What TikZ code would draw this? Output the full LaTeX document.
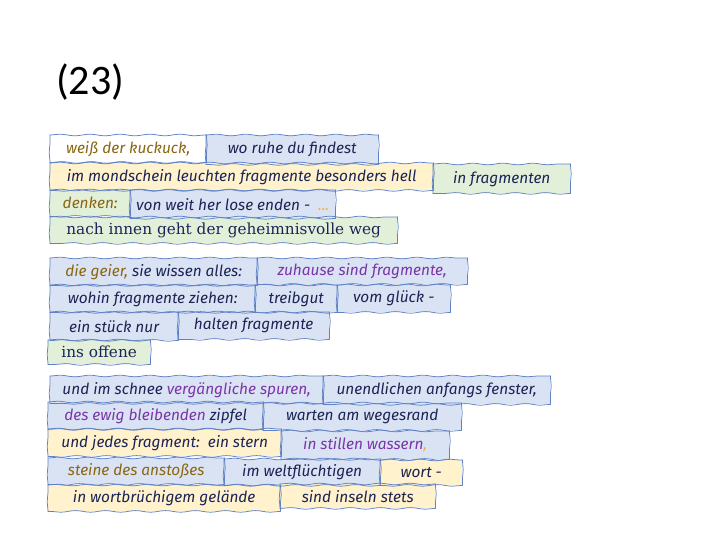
\documentclass[tikz,border=0pt]{standalone}
\usepackage{fontspec}
\setmainfont{DejaVu Serif}
\newfontfamily\titlefont{Carlito}
\newfontfamily\handfont{Fira Sans}
\usetikzlibrary{decorations.pathmorphing}
\definecolor{bord}{HTML}{5F82C6}
\definecolor{fblue}{HTML}{DAE3F3}
\definecolor{fyel}{HTML}{FFF2CC}
\definecolor{fgrn}{HTML}{E2F0D9}
\definecolor{ink}{HTML}{1C2456}
\definecolor{brn}{HTML}{8A6612}
\definecolor{pur}{HTML}{7A35A8}
\definecolor{orc}{HTML}{F2B134}
\newcommand{\br}[1]{\textcolor{brn}{#1}}
\newcommand{\pu}[1]{\textcolor{pur}{#1}}
\newcommand{\oc}[1]{\textcolor{orc}{#1}}
\tikzset{
  bx/.style={inner sep=0pt, anchor=north west, text=ink,
    font=\handfont\itshape\fontsize{15.4}{17}\selectfont},
  sbx/.style={bx, font=\fontsize{15.3}{17}\selectfont},
  wb/.style={fill=white}, bb/.style={fill=fblue},
  yb/.style={fill=fyel}, gb/.style={fill=fgrn},
  wave/.style={draw=bord, line width=0.75pt, line cap=round, decorate,
    decoration={snake, amplitude=0.8pt, segment length=30pt, pre length=0.5pt, post length=0.5pt}}
}
\begin{document}
\begin{tikzpicture}[x=1pt,y=-1pt]
\useasboundingbox (0,0) rectangle (720,540);
\node[anchor=west, font=\titlefont\fontsize{42}{46}\selectfont, inner sep=0pt] (title) at (56,82) {(23)};
% group 1
\node[bx,wb,minimum width=156pt,minimum height=27pt] (a1) at (50,135) {\br{weiß der kuckuck,}};
\node[bx,bb,minimum width=172pt,minimum height=29pt] (a2) at (206,135) {wo ruhe du findest};
\node[bx,yb,minimum width=383pt,minimum height=27pt] (a3) at (50,163) {im mondschein leuchten fragmente besonders hell};
\node[bx,gb,minimum width=137pt,minimum height=29pt] (a4) at (433,164) {in fragmenten};
\node[bx,gb,minimum width=80pt,minimum height=26pt] (a5) at (50,190) {\br{denken:}};
\node[bx,bb,minimum width=205pt,minimum height=28pt] (a6) at (130,190) {von weit her lose enden -\ \ \oc{...}};
\node[sbx,gb,minimum width=347pt,minimum height=26pt] (a7) at (50,217) {nach innen geht der geheimnisvolle weg};
% group 2
\node[bx,bb,minimum width=207pt,minimum height=27pt] (b1) at (50,258) {\br{die geier,} sie wissen alles:};
\node[bx,bb,minimum width=210pt,minimum height=26pt] (b2) at (257,258) {\pu{zuhause sind fragmente,}};
\node[bx,bb,minimum width=205pt,minimum height=27pt] (b3) at (50,285) {wohin fragmente ziehen:};
\node[bx,bb,minimum width=82pt,minimum height=27pt] (b4) at (255,285) {treibgut};
\node[bx,bb,minimum width=113pt,minimum height=27pt] (b5) at (337,285) {vom glück -};
\node[bx,bb,minimum width=128pt,minimum height=28pt] (b6) at (50,312) {ein stück nur};
\node[bx,bb,minimum width=151pt,minimum height=27pt] (b7) at (178,312) {halten fragmente};
\node[sbx,gb,minimum width=102pt,minimum height=24pt] (b8) at (48,340) {ins offene};
% group 3
\node[bx,bb,minimum width=273pt,minimum height=27pt] (c1) at (50,376) {und im schnee \pu{vergängliche spuren,}};
\node[bx,bb,minimum width=227pt,minimum height=28pt] (c2) at (323,376) {unendlichen anfangs fenster,};
\node[bx,bb,minimum width=215pt,minimum height=27pt] (c3) at (48,402) {\pu{des ewig bleibenden} zipfel};
\node[bx,bb,minimum width=198pt,minimum height=27pt] (c4) at (263,403) {warten am wegesrand};
\node[bx,yb,minimum width=233pt,minimum height=27pt] (c5) at (48,429) {und jedes fragment:\ \ ein stern};
\node[bx,bb,minimum width=168pt,minimum height=28pt] (c6) at (281,431) {\pu{in stillen wassern}\oc{,}};
\node[bx,bb,minimum width=176pt,minimum height=26pt] (c7) at (48,458) {\br{steine des anstoßes}};
\node[bx,bb,minimum width=156pt,minimum height=26pt] (c8) at (224,459) {im weltflüchtigen};
\node[bx,yb,minimum width=82pt,minimum height=25pt] (c9) at (380,460) {wort -};
\node[bx,yb,minimum width=232pt,minimum height=26pt] (c10) at (48,485) {in wortbrüchigem gelände};
\node[bx,yb,minimum width=155pt,minimum height=24pt] (c11) at (280,484) {sind inseln stets};
% wavy borders
\foreach \n in {a1,a2,a3,a4,a5,a6,a7,b1,b2,b3,b4,b5,b6,b7,b8,c1,c2,c3,c4,c5,c6,c7,c8,c9,c10,c11}{
  \draw[wave] (\n.north west) -- (\n.north east);
  \draw[wave] (\n.north east) -- (\n.south east);
  \draw[wave] (\n.south east) -- (\n.south west);
  \draw[wave] (\n.south west) -- (\n.north west);
}
\end{tikzpicture}
\end{document}
